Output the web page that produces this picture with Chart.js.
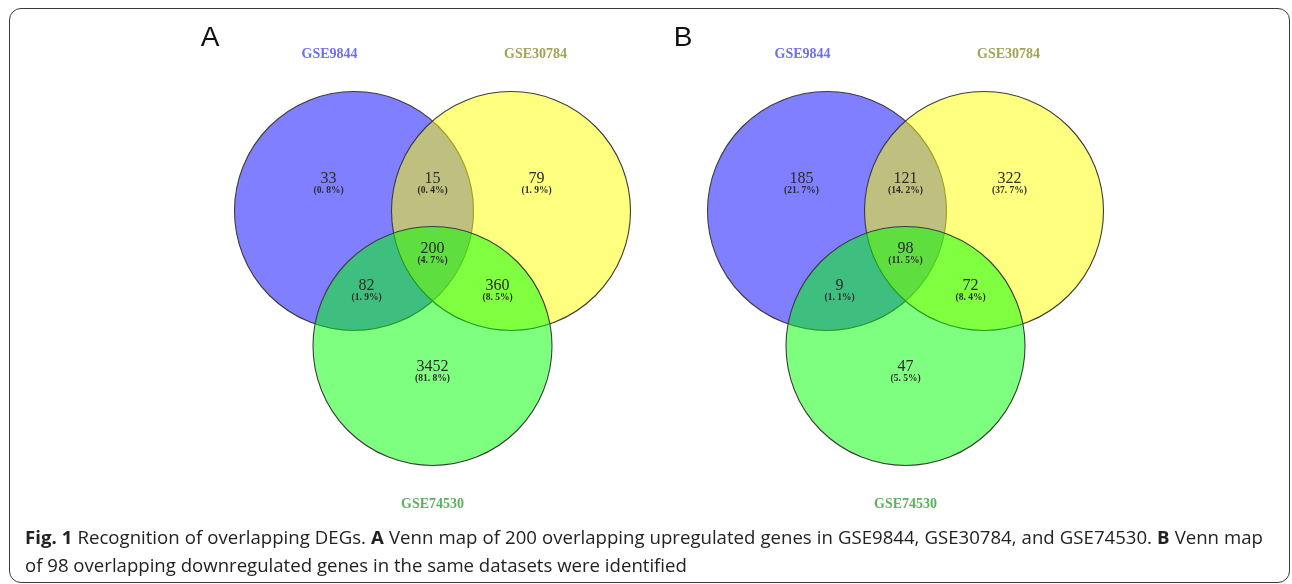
<!DOCTYPE html>
<html>
<head>
<meta charset="utf-8">
<script src="https://cdn.jsdelivr.net/npm/chart.js@4.4.1/dist/chart.umd.min.js"></script>
<style>
  html, body { margin: 0; padding: 0; background: #fff; }
  #wrap { position: relative; width: 1292px; height: 584px; overflow: hidden; }
  #frame {
    position: absolute; left: 9px; top: 8px; width: 1281px; height: 575px;
    box-sizing: border-box; border: 1.6px solid #3a3a3a; border-radius: 12px;
  }
  #venn { position: absolute; left: 0; top: 0; }
  .cap {
    position: absolute; left: 25px; width: 1238px;
    font-family: "Open Sans", "Noto Sans", sans-serif; font-size: 18.6px;
    color: #222; line-height: 27px; white-space: nowrap;
  }
  #cap1 { top: 523px; text-align: justify; text-align-last: justify; white-space: normal; }
  #cap2 { top: 551px; }
  .cap b { font-weight: 700; }
</style>
</head>
<body>
<div id="wrap">
  <div id="frame"></div>
  <canvas id="venn" width="1292" height="584"></canvas>
  <div class="cap" id="cap1"><b>Fig. 1</b> Recognition of overlapping DEGs. <b>A</b> Venn map of 200 overlapping upregulated genes in GSE9844, GSE30784, and GSE74530. <b>B</b> Venn map</div>
  <div class="cap" id="cap2">of 98 overlapping downregulated genes in the same datasets were identified</div>
</div>
<script>
// Datasets compared in each diagram
const setNames = ['GSE9844', 'GSE30784', 'GSE74530'];

// Region order: 9844 only, 9844∩30784, 30784 only, all three, 9844∩74530, 30784∩74530, 74530 only
const regionNames = ['GSE9844 only', 'GSE9844 & GSE30784', 'GSE30784 only', 'All three',
                     'GSE9844 & GSE74530', 'GSE30784 & GSE74530', 'GSE74530 only'];

// Panel A: upregulated genes
const upCounts   = [33, 15, 79, 200, 82, 360, 3452];
const upPercents = [0.8, 0.4, 1.9, 4.7, 1.9, 8.5, 81.8];

// Panel B: downregulated genes
const downCounts   = [185, 121, 322, 98, 9, 72, 47];
const downPercents = [21.7, 14.2, 37.7, 11.5, 1.1, 8.4, 5.5];

const panelLetters = ['A', 'B'];

// ---- layout (pixel space of the canvas) ----
const layout = {
  panelCenters: [432.5, 905.5],
  radius: 119.5,
  circles: [ { dx: -78.5, y: 211 }, { dx: 78.5, y: 211 }, { dx: 0, y: 346 } ],
  fills:   ['rgba(0,0,255,0.5)', 'rgba(255,255,0,0.5)', 'rgba(0,255,0,0.5)'],
  drawOrder: [3, 2, 1],
  setLabels: [ { dx: -103, y: 54 }, { dx: 103, y: 54 }, { dx: 0, y: 504 } ],
  setColors: ['#6f6ff2', '#a3a356', '#5cb25c'],
  regionLabels: [
    { dx: -104, y: 179 }, { dx: 0, y: 179 }, { dx: 104, y: 179 },
    { dx: 0, y: 249 },
    { dx: -66, y: 286 }, { dx: 65, y: 286 },
    { dx: 0, y: 367 }
  ],
  letter: { dx: -222.5, y: 38 }
};

const panels = [
  { counts: upCounts, percents: upPercents },
  { counts: downCounts, percents: downPercents }
];

const datasets = [];
layout.panelCenters.forEach((cx, p) => {
  setNames.forEach((name, i) => {
    const c = layout.circles[i];
    datasets.push({
      label: name + ' (' + panelLetters[p] + ')',
      data: [{ x: cx + c.dx, y: c.y, r: layout.radius }],
      backgroundColor: layout.fills[i],
      borderColor: '#3c3c3c',
      borderWidth: 1.1,
      order: layout.drawOrder[i],
      clip: false
    });
  });
});

function pctText(v) {
  return '(' + v.toFixed(1).replace('.', '. ') + '%)';
}

const vennText = {
  id: 'vennText',
  afterDatasetsDraw(chart) {
    const { ctx, scales: { x, y } } = chart;
    ctx.save();
    ctx.textAlign = 'center';
    ctx.textBaseline = 'middle';
    layout.panelCenters.forEach((cx, p) => {
      // panel letter
      ctx.fillStyle = '#111';
      ctx.font = '28px "Liberation Sans", Arial, sans-serif';
      ctx.fillText(panelLetters[p], x.getPixelForValue(cx + layout.letter.dx), y.getPixelForValue(layout.letter.y));
      // set names
      ctx.font = 'bold 14px "Liberation Serif", "DejaVu Serif", serif';
      setNames.forEach((name, i) => {
        const l = layout.setLabels[i];
        ctx.fillStyle = layout.setColors[i];
        ctx.fillText(name, x.getPixelForValue(cx + l.dx), y.getPixelForValue(l.y));
      });
      // region counts and shares
      const d = panels[p];
      d.counts.forEach((n, k) => {
        const l = layout.regionLabels[k];
        const px = x.getPixelForValue(cx + l.dx);
        ctx.fillStyle = '#2a2a2a';
        ctx.font = '16px "Liberation Serif", "DejaVu Serif", serif';
        ctx.fillText(String(n), px, y.getPixelForValue(l.y));
        ctx.font = 'bold 9.5px "Liberation Serif", "DejaVu Serif", serif';
        ctx.fillText(pctText(d.percents[k]), px, y.getPixelForValue(l.y + 12));
      });
    });
    ctx.restore();
  }
};

new Chart(document.getElementById('venn'), {
  type: 'bubble',
  data: { datasets },
  options: {
    responsive: false,
    animation: false,
    events: [],
    layout: { padding: 0, autoPadding: false },
    plugins: { legend: { display: false }, tooltip: { enabled: false } },
    scales: {
      x: { type: 'linear', min: 0, max: 1292, display: false },
      y: { type: 'linear', min: 0, max: 584, reverse: true, display: false }
    }
  },
  plugins: [vennText]
});
</script>
</body>
</html>
